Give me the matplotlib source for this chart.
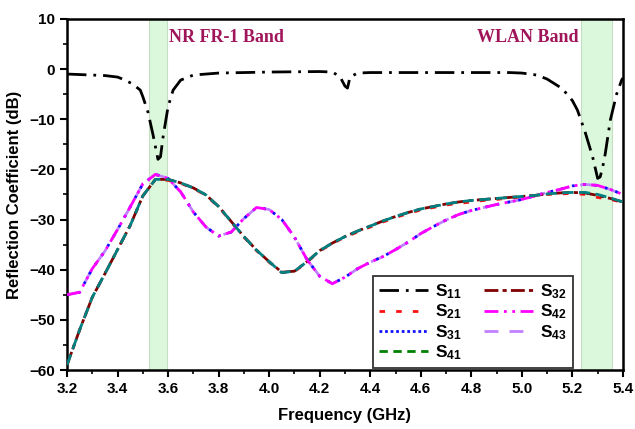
import matplotlib
matplotlib.use("Agg")
import matplotlib.pyplot as plt
from matplotlib.lines import Line2D
from matplotlib.ticker import MultipleLocator

# ---------------- data ----------------
freq = [3.20, 3.25, 3.30, 3.35, 3.40, 3.45, 3.50, 3.55, 3.60, 3.65, 3.70, 3.75,
        3.80, 3.85, 3.90, 3.95, 4.00, 4.05, 4.10, 4.15, 4.20, 4.25, 4.30, 4.35,
        4.40, 4.45, 4.50, 4.55, 4.60, 4.65, 4.70, 4.75, 4.80, 4.85, 4.90, 4.95,
        5.00, 5.05, 5.10, 5.15, 5.20, 5.25, 5.30, 5.35, 5.40]

# adjacent-port coupling group (S21, S32, S41)
s21 = [-59.0, -52.0, -45.5, -40.8, -36.0, -31.2, -25.3, -22.0, -22.2, -22.8, -23.8, -25.2,
       -27.5, -30.5, -33.5, -36.2, -38.5, -40.6, -40.4, -38.5, -36.3, -34.8, -33.5, -32.5,
       -31.5, -30.5, -29.6, -28.8, -28.1, -27.6, -27.1, -26.8, -26.5, -26.2, -26.0, -25.7,
       -25.5, -25.3, -25.0, -24.9, -24.8, -25.0, -25.6, -26.0, -26.6]
s32 = [-59.0, -52.0, -45.5, -40.8, -36.0, -31.2, -25.3, -22.0, -22.0, -22.7, -23.7, -25.1,
       -27.4, -30.4, -33.4, -36.1, -38.4, -40.5, -40.3, -38.4, -36.2, -34.7, -33.4, -32.3,
       -31.3, -30.3, -29.4, -28.6, -27.9, -27.4, -26.9, -26.5, -26.2, -26.0, -25.8, -25.6,
       -25.4, -25.2, -24.9, -24.7, -24.6, -24.7, -25.2, -25.8, -26.5]
s41 = [-59.0, -52.0, -45.5, -40.8, -36.0, -31.2, -25.3, -22.0, -22.0, -22.7, -23.7, -25.1,
       -27.4, -30.4, -33.4, -36.1, -38.4, -40.6, -40.3, -38.4, -36.2, -34.7, -33.4, -32.3,
       -31.3, -30.3, -29.4, -28.6, -27.9, -27.4, -26.9, -26.5, -26.2, -26.0, -25.8, -25.6,
       -25.4, -25.2, -24.9, -24.7, -24.6, -24.6, -25.0, -25.7, -26.5]

# other coupling group (S31, S42, S43)
s31 = [-45.0, -44.5, -39.8, -36.3, -32.0, -27.5, -22.9, -21.0, -21.8, -24.5, -28.5, -31.5,
       -33.3, -32.5, -29.8, -27.6, -28.0, -30.0, -33.5, -38.0, -41.3, -42.8, -41.5, -39.8,
       -38.5, -37.4, -36.0, -34.5, -32.8, -31.4, -30.1, -29.0, -28.2, -27.6, -27.0, -26.5,
       -26.0, -25.3, -24.6, -24.0, -23.3, -23.0, -23.2, -24.0, -25.0]
s42 = [-45.0, -44.5, -39.8, -36.3, -32.0, -27.5, -22.9, -21.0, -21.8, -24.5, -28.5, -31.5,
       -33.3, -32.5, -29.8, -27.6, -28.0, -30.0, -33.5, -38.0, -41.3, -42.8, -41.5, -39.8,
       -38.5, -37.4, -36.0, -34.5, -32.8, -31.4, -30.1, -29.0, -28.2, -27.6, -27.0, -26.5,
       -26.0, -25.3, -24.6, -24.0, -23.3, -23.0, -23.2, -24.0, -25.0]
s43 = [-45.0, -44.5, -39.8, -36.3, -32.0, -27.5, -22.9, -21.0, -21.8, -24.5, -28.5, -31.5,
       -33.3, -32.5, -29.8, -27.6, -28.0, -30.0, -33.5, -38.0, -41.3, -42.8, -41.5, -39.8,
       -38.5, -37.4, -36.0, -34.5, -32.8, -31.4, -30.1, -29.0, -28.2, -27.6, -27.0, -26.5,
       -26.0, -25.3, -24.6, -24.0, -23.3, -23.0, -23.2, -24.0, -25.0]

# reflection S11 (own frequency grid, finer near the resonances)
freq11 = [3.20, 3.25, 3.30, 3.35, 3.40, 3.43, 3.46, 3.49, 3.50, 3.52, 3.54, 3.56, 3.57,
          3.58, 3.60, 3.62, 3.65, 3.70, 3.80, 3.90, 4.00, 4.10, 4.20, 4.25, 4.28, 4.30,
          4.31, 4.32, 4.35, 4.40, 4.60, 4.80, 4.95, 5.00, 5.06, 5.10, 5.16, 5.20, 5.22,
          5.25, 5.28, 5.30, 5.31, 5.32, 5.33, 5.35, 5.375, 5.395, 5.40]
s11 = [-1.0, -1.1, -1.2, -1.3, -1.6, -2.2, -3.0, -4.2, -5.5, -8.5, -13.0, -18.0, -17.5,
       -13.6, -7.5, -4.2, -2.2, -1.2, -0.8, -0.7, -0.6, -0.55, -0.5, -0.6, -1.5, -3.4,
       -3.8, -1.6, -0.8, -0.7, -0.7, -0.7, -0.7, -0.8, -1.2, -2.0, -3.9, -6.3, -8.2,
       -12.5, -17.5, -21.8, -21.5, -19.5, -16.9, -10.2, -5.0, -2.2, -1.8]

bands = [(3.525, 3.595), (5.235, 5.355)]
band_labels = ["NR FR-1 Band", "WLAN Band"]
xticks = [3.2, 3.4, 3.6, 3.8, 4.0, 4.2, 4.4, 4.6, 4.8, 5.0, 5.2, 5.4]

# ---------------- plot ----------------
plt.rcParams["mathtext.fontset"] = "custom"
plt.rcParams["mathtext.bf"] = "Liberation Sans:bold"
plt.rcParams["mathtext.rm"] = "Liberation Sans"

fig = plt.figure(figsize=(6.35, 4.29), dpi=100)
ax = fig.add_axes([0.1055, 0.1375, 0.8755, 0.8185])

for lo, hi in bands:
    ax.axvspan(lo, hi, facecolor="#dcf8dc", edgecolor="#c5dcc5", lw=0.8, zorder=0)

lw = 2.0
ax.plot(freq11, s11, color="black", lw=lw, ls=(0, (7, 2.5, 1, 2.5)), zorder=5)
ax.plot(freq, s43, color="#c080ff", lw=lw, ls=(0, (5, 4)), zorder=2)
ax.plot(freq, s31, color="#1010ff", lw=lw, ls=(0, (1, 3)), zorder=3)
ax.plot(freq, s42, color="#ff00ff", lw=lw, ls=(0, (5, 2, 1, 2, 1, 2)), zorder=4)
ax.plot(freq, s21, color="#ff1010", lw=lw, ls=(0, (2, 4)), zorder=2)
ax.plot(freq, s32, color="#800000", lw=lw, ls=(0, (5, 1.5, 1.5, 1.5)), zorder=3)
ax.plot(freq, s41, color="#008080", lw=lw, ls=(0, (4, 2)), zorder=4)

ax.set_xlim(3.2, 5.4)
ax.set_ylim(-60, 10)
ax.set_xticks(xticks)
ax.set_xticklabels([f"{v:.1f}" for v in xticks])
ax.xaxis.set_minor_locator(MultipleLocator(0.1))
ax.yaxis.set_major_locator(MultipleLocator(10))
ax.yaxis.set_minor_locator(MultipleLocator(5))
ax.tick_params(which="major", direction="out", length=5, width=1.5, labelsize=11)
ax.tick_params(which="minor", direction="out", length=3, width=1.2)
for lab in ax.get_xticklabels() + ax.get_yticklabels():
    lab.set_fontweight("bold")
    lab.set_family("Liberation Sans")
for sp in ax.spines.values():
    sp.set_linewidth(1.8)

ax.set_xlabel("Frequency (GHz)", fontsize=12, fontweight="bold",
              family="Liberation Sans", labelpad=9)
ax.set_ylabel("Reflection Coefficient (dB)", fontsize=12, fontweight="bold",
              family="Liberation Sans", labelpad=5)

tcol = "#a0145a"
ax.text(3.605, 6.3, band_labels[0], color=tcol, fontsize=13, fontweight="bold",
        family="Liberation Serif", va="center", ha="left")
ax.text(5.225, 6.3, band_labels[1], color=tcol, fontsize=13, fontweight="bold",
        family="Liberation Serif", va="center", ha="right")

handles = [
    Line2D([], [], color="black", lw=lw, ls=(0, (7, 2.5, 1, 2.5))),
    Line2D([], [], color="#ff1010", lw=lw, ls=(0, (2, 4))),
    Line2D([], [], color="#1010ff", lw=lw, ls=(0, (1, 1))),
    Line2D([], [], color="#008000", lw=lw, ls=(0, (3, 2))),
    Line2D([], [], color="#800000", lw=lw, ls=(0, (5, 1.5, 1.5, 1.5))),
    Line2D([], [], color="#ff00ff", lw=lw, ls=(0, (5, 2, 1, 2, 1, 2))),
    Line2D([], [], color="#c080ff", lw=lw, ls=(0, (5, 4))),
]
labels = [r"$\mathbf{S_{11}}$", r"$\mathbf{S_{21}}$", r"$\mathbf{S_{31}}$",
          r"$\mathbf{S_{41}}$", r"$\mathbf{S_{32}}$", r"$\mathbf{S_{42}}$",
          r"$\mathbf{S_{43}}$"]
leg = ax.legend(handles, labels, ncol=2, loc="lower left",
                bbox_to_anchor=(0.548, 0.0), fontsize=12.5, frameon=True,
                fancybox=False, edgecolor="black", handlelength=2.8,
                handletextpad=0.4, columnspacing=1.3, labelspacing=0.1,
                borderpad=0.35, borderaxespad=0.1)
leg.get_frame().set_linewidth(1.3)

fig.savefig("out.png", dpi=100)
